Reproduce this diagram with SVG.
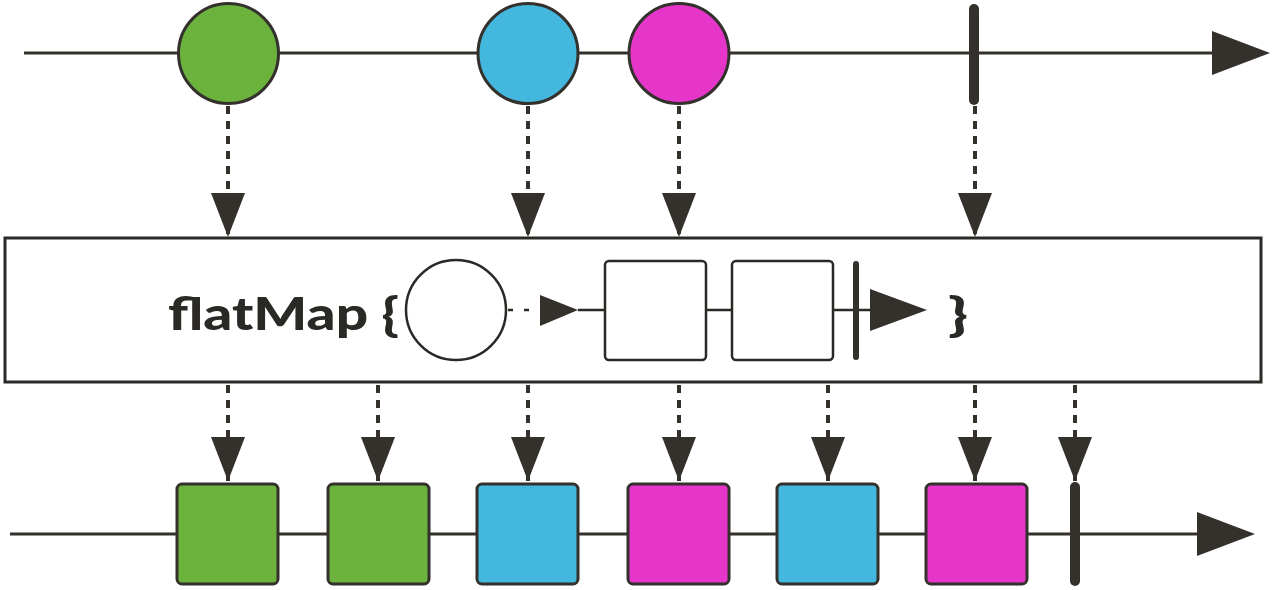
<svg xmlns="http://www.w3.org/2000/svg" width="1280" height="590" viewBox="0 0 1280 590">
  <style>
    .line { stroke: #34312c; stroke-width: 3; fill: none; }
    .dash { stroke: #34312c; stroke-width: 4; stroke-dasharray: 8 7; fill: none; }
    .item { stroke: #34312c; stroke-width: 3; }
    .bar { stroke: #34312c; stroke-width: 10; stroke-linecap: round; }
    .green { fill: #6cb33e; }
    .blue { fill: #44b7de; }
    .pink { fill: #e536c9; }
    .head { fill: #34312c; }
    .label { font-family: Lato, "DejaVu Sans", sans-serif; font-weight: 900; font-size: 46px; fill: #2b2926; }
  </style>
  <defs>
    <marker id="down" markerUnits="userSpaceOnUse" markerWidth="44" markerHeight="34" refX="44" refY="17" orient="auto">
      <path d="M0,0 L44,17 L0,34 Z" class="head"/>
    </marker>
    <marker id="axis" markerUnits="userSpaceOnUse" markerWidth="58" markerHeight="44" refX="0" refY="22" orient="auto">
      <path d="M0,0 L58,22 L0,44 Z" class="head"/>
    </marker>
  </defs>

  <!-- timelines and dashed connectors -->
  <g id="connectors">
    <line class="line" x1="24" y1="53" x2="1212" y2="53" marker-end="url(#axis)"/>
    <line class="line" x1="10" y1="534" x2="1197" y2="534" marker-end="url(#axis)"/>
    <line class="dash" x1="228" y1="106" x2="228" y2="237" marker-end="url(#down)"/>
    <line class="dash" x1="528" y1="106" x2="528" y2="237" marker-end="url(#down)"/>
    <line class="dash" x1="679" y1="106" x2="679" y2="237" marker-end="url(#down)"/>
    <line class="dash" x1="975" y1="106" x2="975" y2="237" marker-end="url(#down)"/>
    <line class="dash" x1="228" y1="385" x2="228" y2="481" marker-end="url(#down)"/>
    <line class="dash" x1="378" y1="385" x2="378" y2="481" marker-end="url(#down)"/>
    <line class="dash" x1="528" y1="385" x2="528" y2="481" marker-end="url(#down)"/>
    <line class="dash" x1="679" y1="385" x2="679" y2="481" marker-end="url(#down)"/>
    <line class="dash" x1="828" y1="385" x2="828" y2="481" marker-end="url(#down)"/>
    <line class="dash" x1="975" y1="385" x2="975" y2="481" marker-end="url(#down)"/>
    <line class="dash" x1="1075" y1="385" x2="1075" y2="481" marker-end="url(#down)"/>
  </g>

  <!-- source emissions -->
  <g id="src-green"><circle class="item green" cx="228.5" cy="53.5" r="50"/></g>
  <g id="src-blue"><circle class="item blue" cx="528" cy="53.5" r="50"/></g>
  <g id="src-pink"><circle class="item pink" cx="679" cy="53.5" r="50"/></g>
  <g id="src-complete"><line class="bar" x1="974" y1="9" x2="974" y2="100"/></g>

  <!-- operator box -->
  <g id="operator">
    <rect x="5" y="238" width="1256" height="144" fill="#ffffff" stroke="#2b2926" stroke-width="3"/>
    <text class="label" x="168" y="330" textLength="231" lengthAdjust="spacingAndGlyphs">flatMap {</text>
    <text class="label" x="948" y="330" textLength="20" lengthAdjust="spacingAndGlyphs">}</text>
    <ellipse cx="456" cy="310" rx="50" ry="50" fill="#ffffff" stroke="#2b2926" stroke-width="2.5"/>
    <line x1="508" y1="310" x2="513" y2="310" stroke="#2b2926" stroke-width="2.5"/>
    <line x1="524" y1="310" x2="529" y2="310" stroke="#2b2926" stroke-width="2.5"/>
    <path d="M540,295 L578,310 L540,326 Z" class="head"/>
    <line x1="578" y1="310" x2="872" y2="310" stroke="#2b2926" stroke-width="2.5"/>
    <rect x="605" y="261" width="101" height="99" rx="4" fill="#ffffff" stroke="#2b2926" stroke-width="2.5"/>
    <rect x="732" y="261" width="101" height="99" rx="4" fill="#ffffff" stroke="#2b2926" stroke-width="2.5"/>
    <line x1="856" y1="264" x2="856" y2="357" stroke="#34312c" stroke-width="6" stroke-linecap="round"/>
    <path d="M870,289 L927,310 L870,331 Z" class="head"/>
  </g>

  <!-- result emissions -->
  <g id="out-1"><rect class="item green" x="177" y="484" width="101" height="100" rx="5"/></g>
  <g id="out-2"><rect class="item green" x="328" y="484" width="101" height="100" rx="5"/></g>
  <g id="out-3"><rect class="item blue" x="477" y="484" width="101" height="100" rx="5"/></g>
  <g id="out-4"><rect class="item pink" x="628" y="484" width="101" height="100" rx="5"/></g>
  <g id="out-5"><rect class="item blue" x="777" y="484" width="101" height="100" rx="5"/></g>
  <g id="out-6"><rect class="item pink" x="926" y="484" width="101" height="100" rx="5"/></g>
  <g id="out-complete"><line class="bar" x1="1075" y1="487" x2="1075" y2="581"/></g>
</svg>
